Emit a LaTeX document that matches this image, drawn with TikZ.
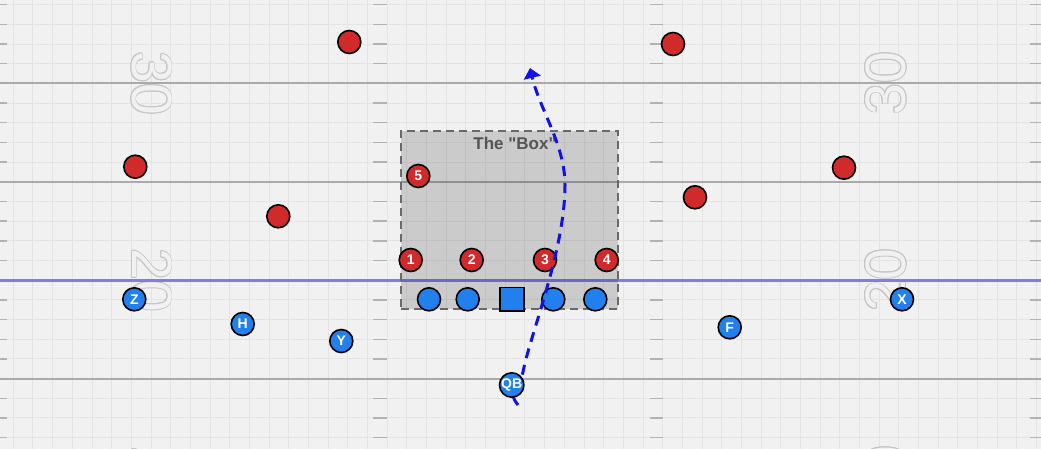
\documentclass[tikz,border=0pt]{standalone}
\usepackage{fontspec}
\setmainfont{Liberation Sans}
\usetikzlibrary{arrows.meta}

\definecolor{turf}{RGB}{241,241,241}
\definecolor{gridgray}{RGB}{228,228,228}
\definecolor{yardgray}{RGB}{170,170,170}
\definecolor{hashgray}{RGB}{178,178,178}
\definecolor{numgray}{RGB}{198,198,198}
\definecolor{scrimmage}{RGB}{125,125,240}
\definecolor{defred}{RGB}{209,42,42}
\definecolor{offblue}{RGB}{33,128,238}
\definecolor{routeblue}{RGB}{18,18,232}
\definecolor{boxedge}{RGB}{105,105,105}
\definecolor{boxtext}{RGB}{85,85,85}

\tikzset{
  gridrule/.style={draw=gridgray, line width=1pt},
  hashrule/.style={draw=hashgray, line width=1.4pt},
  yardrule/.style={draw=yardgray, line width=2pt},
  losrule/.style={draw=scrimmage, line width=3pt},
  yardnum/.style={inner sep=0pt, font=\fontsize{57}{57}\selectfont},
  defender/.style={circle, draw=black, line width=1.6pt, fill=defred,
    minimum size=23pt, inner sep=0pt, text=white,
    font=\bfseries\fontsize{14}{14}\selectfont},
  player/.style={defender, fill=offblue},
  snapper/.style={player, rectangle, minimum size=23.5pt},
  playbox/.style={draw=boxedge, line width=2pt, dash pattern=on 8pt off 5pt,
    fill=black, fill opacity=0.155, draw opacity=1,
    minimum width=217pt, minimum height=178pt},
  boxlabel/.style={text=boxtext, font=\bfseries\fontsize{17}{17}\selectfont},
  route/.style={draw=routeblue, line width=3pt, dash pattern=on 10pt off 7pt,
    -{Triangle[width=17pt,length=10pt]}}
}

% hollow yard number: name, position, angle, digits
\newcommand\yardnumber[4]{%
  \foreach \a in {0,30,...,330}
    \path (#2) ++(\a:0.85) node[yardnum, text=numgray, rotate=#3] {#4};
  \node[yardnum, text=turf, rotate=#3] (#1) at (#2) {#4};
}

\begin{document}
\begin{tikzpicture}[x=1pt, y=-1pt]
\clip (0,0) rectangle (1041,449);
\fill[turf] (0,0) rectangle (1041,449);

% grid, one yard apart
\foreach \i in {0,...,52}
  \draw[gridrule] ({13.3+19.68*\i},0) -- ({13.3+19.68*\i},449);
\foreach \j in {0,...,22}
  \draw[gridrule] (0,{4.7+19.68*\j}) -- (1041,{4.7+19.68*\j});

% yard numbers
\yardnumber{thirtyL}{151.7,83.4}{-90}{30}
\yardnumber{twentyL}{151.7,280.2}{-90}{20}
\yardnumber{tenL}{151.7,477}{-90}{10}
\yardnumber{thirtyR}{885.7,83.4}{90}{30}
\yardnumber{twentyR}{885.7,280.2}{90}{20}
\yardnumber{tenR}{885.7,477}{90}{10}

% hash marks
\foreach \j in {0,...,22}{
  \pgfmathtruncatemacro\r{mod(\j,5)}
  \ifnum\r=4\else
    \draw[hashrule] (0,{4.7+19.68*\j}) -- (7.3,{4.7+19.68*\j});
    \draw[hashrule] (373.3,{4.7+19.68*\j}) -- (386.7,{4.7+19.68*\j});
    \draw[hashrule] (650,{4.7+19.68*\j}) -- (662.7,{4.7+19.68*\j});
    \draw[hashrule] (1030,{4.7+19.68*\j}) -- (1041,{4.7+19.68*\j});
  \fi
}

% yard lines and line of scrimmage
\draw[yardrule] (0,83.4) -- (1041,83.4);
\draw[yardrule] (0,181.8) -- (1041,181.8);
\draw[yardrule] (0,378.6) -- (1041,378.6);
\draw[losrule] (0,280.2) -- (1041,280.2);

% the box
\node[playbox] (box) at (509.5,220) {};
\node[boxlabel] (boxlabel) at (515,143) {The \textquotedbl Box\textquotedbl};

% defense
\node[defender] (fsL) at (349.3,42) {};
\node[defender] (fsR) at (673,44) {};
\node[defender] (cbL) at (135.3,166.7) {};
\node[defender] (cbR) at (844,167.7) {};
\node[defender] (olbL) at (278.3,216.3) {};
\node[defender] (olbR) at (695,197.3) {};
\node[defender] (d5) at (418.3,176) {5};
\node[defender] (d1) at (410.7,260) {1};
\node[defender] (d2) at (471.7,260) {2};
\node[defender] (d3) at (545,260) {3};
\node[defender] (d4) at (606.7,260) {4};

% offense
\node[player] (lt) at (429,299.3) {};
\node[player] (lg) at (467.7,299.3) {};
\node[snapper] (c) at (512,299.3) {};
\node[player] (rg) at (553.3,299.3) {};
\node[player] (rt) at (595.3,299.3) {};
\node[player] (z) at (134.3,299.3) {Z};
\node[player] (h) at (242.7,324) {H};
\node[player] (y) at (341.3,341) {Y};
\node[player] (f) at (729.7,327.3) {F};
\node[player] (x) at (902,299.3) {X};

% run route, QB on top of its start
\coordinate (routestart) at (518,405);
\coordinate (routeend) at (530,68);
\draw[route] (routestart) .. controls (506,390) and (518,390) .. (523,372)
  .. controls (530,335) and (565,250) .. (565,185)
  .. controls (565,145) and (540,110) .. (routeend);
\node[player] (qb) at (511.7,385) {QB};
\end{tikzpicture}
\end{document}
